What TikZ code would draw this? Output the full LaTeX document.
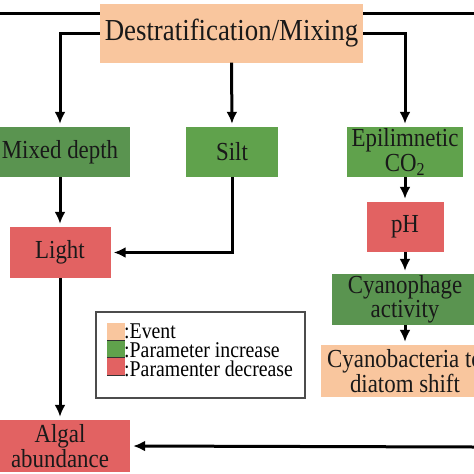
\documentclass[tikz,border=0pt]{standalone}
\usepackage{fontspec}
\setmainfont{Liberation Serif}[FakeStretch=0.88]
\usetikzlibrary{arrows.meta}
\definecolor{eventc}{RGB}{249,198,158}
\definecolor{incc}{RGB}{96,162,76}
\definecolor{incd}{RGB}{90,148,80}
\definecolor{decc}{RGB}{226,98,98}
\tikzset{
  box/.style={inner sep=0pt, align=center, text=black!90,
    font=\fontsize{26}{24.5}\selectfont},
  eventbox/.style={box, fill=eventc},
  incbox/.style={box, fill=incc},
  decbox/.style={box, fill=decc},
  link/.style={line width=3pt, -{Latex[length=12pt,width=11pt]}, shorten >=3pt},
  legtext/.style={inner sep=0pt, anchor=west, font=\fontsize{22.5}{20}\selectfont}
}
\begin{document}
\begin{tikzpicture}[x=1pt,y=-1pt]
                \useasboundingbox (0,0) rectangle (474,474);
                \clip (0,0) rectangle (474,474);
                \fill [white] (0,0) rectangle (474,474);

                % Event at the top
                \node [eventbox, minimum width=263pt, minimum height=59pt,
                       font=\fontsize{30.5}{30.5}\selectfont] (mix) at (231.5,33) {Destratification/Mixing};%

                % Parameters of the first row
                \node [incbox, fill=incd, minimum width=140pt, minimum height=50pt] (depth) at (60,152) {Mixed depth};%
                \node [incbox, minimum width=92pt, minimum height=50pt] (silt) at (232,152) {Silt};%
                \node [incbox, minimum width=116pt, minimum height=50pt] (co2) at (405,152) {Epilimnetic\\CO\textsubscript{2}};%

                % Left column
                \node [decbox, minimum width=101pt, minimum height=51pt] (light) at (60,252.5) {Light};%
                \node [decbox, minimum width=140pt, minimum height=52pt] (algae) at (60,446) {Algal\\abundance};%

                % Right column
                \node [decbox, minimum width=77pt, minimum height=50pt] (ph) at (405,227) {pH};%
                \node [incbox, fill=incd, minimum width=146pt, minimum height=51pt] (phage) at (405,299.5) {Cyanophage\\activity};%
                \node [eventbox, minimum width=168pt, minimum height=52pt] (shift) at (405,371) {Cyanobacteria to\\diatom shift};%

                % Free ends at the edges
                \coordinate (edgeL) at (0,13);%
                \coordinate (edgeR) at (474,13);%
                \coordinate (edgeB) at (474,447);%

                % Drawing lines leaving the picture
                \draw [line width=3pt] (edgeL) -- (mix.west |- edgeL);%
                \draw [line width=3pt] (edgeR) -- (mix.east |- edgeR);%

                % Drawing arrows from the event
                \draw [link] (mix.west) -| (depth.north);%
                \draw [link] (mix.south) -- (silt.north);%
                \draw [link] (mix.east) -| (co2.north);%

                % Drawing arrows to light and algae
                \draw [link] (depth.south) -- (light.north);%
                \draw [link] (silt.south) |- (light.east);%
                \draw [link] (light.south) -- (algae.north);%
                \draw [link] (edgeB) -- (algae.east);%

                % Drawing arrows of the right column
                \draw [link] (co2.south) -- (ph.north);%
                \draw [link] (ph.south) -- (phage.north);%
                \draw [link] (phage.south) -- (shift.north);%

                % Legend
                \node [draw=black!70, line width=1.6pt, minimum width=209pt, minimum height=86pt,
                       inner sep=0pt] (legend) at (200.5,355) {};%
                \fill [eventc] (107,323) rectangle (125,340);%
                \fill [incc] (107,340) rectangle (125,357);%
                \fill [decc] (107,357) rectangle (125,375);%
                \draw [line width=1pt, black!80] (107,340) -- (125,340);%
                \draw [line width=1pt, black!80] (107,357) -- (125,357);%
                \draw [line width=1pt, black!80] (107,375) -- (125,375);%
                \node [legtext] (legev) at (124,331) {:Event};%
                \node [legtext] (leginc) at (124,350) {:Parameter increase};%
                \node [legtext] (legdec) at (124,368.5) {:Paramenter decrease};%
\end{tikzpicture}
\end{document}
